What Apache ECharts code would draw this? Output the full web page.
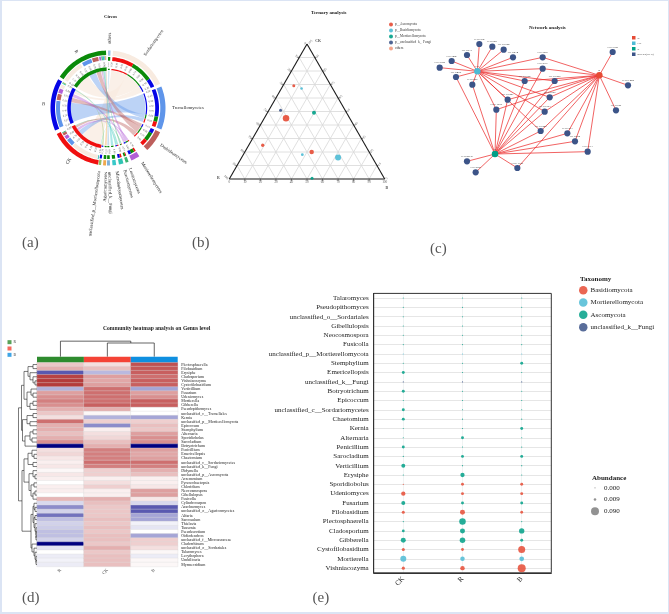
<!DOCTYPE html>
<html><head><meta charset="utf-8">
<style>html,body{margin:0;padding:0;background:#fff}#c{width:669px;height:614px}
#f{position:absolute;left:0;top:0;width:669px;height:614px;box-sizing:border-box;border:solid #dbe4f4;border-width:1px 1px 2px 2px;pointer-events:none}</style>
<script src="https://cdn.jsdelivr.net/npm/echarts@6/dist/echarts.min.js"></script>
</head><body><div id="c"></div><div id="f"></div>
<script>
const SERIF='"Liberation Serif"';
const NPG={red:'#e64b35',cyan:'#4dbbd5',green:'#00a087',blue:'#3c5488',peach:'#f39b7f'};

/* ---------- (a) circos ---------- */
const circosGroups=[['R',303,358,'#0a8a0a'],['B',247,300,'#0505e6'],['CK',190,243,'#f01010']];
const circosTaxa=[
 ['others',0,2.6,'#9fc5e8'],['Sordariomycetes',5,65,'#f8ebe0'],['Tremellomycetes',68,112,'#5f95ea'],
 ['Dothideomycetes',115,137,'#bd5f5c'],['Mortierellomycetes',147,156,'#b25fd6'],['Leotiomycetes',159,162,'#3cb371'],
 ['Eurotiomycetes',164.4,169,'#2fc4b2'],['Microbotryomycetes',171.8,175.5,'#38c8c8'],['unclassified_k__Fungi',178,181,'#7fb0d8'],
 ['Agaricomycetes',182,185,'#f0a94f'],['unclassified_p__Mortierellomycota',187,189.5,'#8fbc5f']];
const circosLinks=[
 ['CK','Sordariomycetes',192,223,5,30],['R','Sordariomycetes',303,328,30,55],['B','Sordariomycetes',293,297,55,65],
 ['B','Tremellomycetes',248,278,68,100],['R','Tremellomycetes',330,341,100,106],['CK','Tremellomycetes',224,232,106,112],
 ['B','Dothideomycetes',279,286,115,120],['R','Dothideomycetes',342,349,120,130],['CK','Dothideomycetes',238,241,130,137],
 ['CK','Mortierellomycetes',233,237,147,149],['R','Mortierellomycetes',350,352,149,153],['B','Mortierellomycetes',287,292,153,156],
 ['CK','Leotiomycetes',241,242,159,160],['R','Leotiomycetes',352.5,354,160,162],
 ['CK','Eurotiomycetes',190.5,191.5,164.4,166.4],['B','Eurotiomycetes',298,299,166.4,169],
 ['R','Microbotryomycetes',354,355.5,171.8,175.5],['R','unclassified_k__Fungi',355.5,356.5,178,181],
 ['R','Agaricomycetes',356.5,357.5,182,185],['B','unclassified_p__Mortierellomycota',299,300,187,189.5],
 ['R','others',357.5,358,0,2.6]];

/* ---------- (b) ternary: [R, CK, B, dot size] ---------- */
const ternaryAscomycota=[[41,45,14,6.5],[24,69,7,3],[66,25,9,3.3],[37,20,43,4.5]];
const ternaryBasidiomycota=[[20,67,13,2.6],[44,18,38,2.8],[22,16,62,6]];
const ternaryMortierellomycota=[[21,49,30,4],[46.5,0.5,53,3]];
const ternaryFungi=[[41.5,51,7.5,3]];
const ternaryTicks=[0,10,20,30,40,50,60,70,80,90,100];

/* ---------- (c) network ---------- */
const networkHubs=[['B',538,196],['CK',172,184],['R',225,432]];
const networkOtus=[['OTU704',178,102],['OTU881',217,110],['OTU1052',251,119],['OTU214',279,142],['OTU917',141,135],
 ['OTU486',95,153],['OTU964',59,173],['OTU456',108,201],['OTU826',157,224],['OTU283',368,142],['OTU677',368,176],
 ['OTU1562',314,213],['OTU1400',404,213],['OTU1487',263,269],['OTU1059',389,262],['OTU1009',229,299],['OTU1963',374,305],
 ['OTU1429',362,363],['OTU983',442,370],['OTU688',465,394],['OTU713',503,425],['OTU1349',292,474],['OTU2836',141,454],
 ['OTU868',167,487],['OTU702',578,126],['OTU1422',624,226],['OTU340',588,301]];
const linksCK=['OTU704','OTU881','OTU1052','OTU214','OTU917','OTU486','OTU964','OTU456','OTU826','OTU283','OTU677','OTU1562','OTU1400','OTU1487','OTU1059','OTU1009','OTU1963','OTU1429'];
const linksB=['OTU702','OTU1422','OTU340','OTU283','OTU1400','OTU1562','OTU1059','OTU1487','OTU1009','OTU1963','OTU983','OTU688','OTU713','OTU1349','OTU677','OTU1429'];
const linksR=['OTU456','OTU826','OTU1009','OTU1487','OTU1562','OTU677','OTU1059','OTU1400','OTU1963','OTU1429','OTU983','OTU688','OTU713','OTU2836','OTU868','OTU1349'];

/* ---------- (d) heatmap ---------- */
const heatColumns=['R','CK','B'];
const heatRows=['Plectosphaerella','Filobasidium','Erysiphe','Cladosporium','Vishniacozyma','Cystofilobasidium','Verticillium','Fusarium','Udeniomyces','Mortierella','Gibberella','Pseudopithomyces','unclassified_c__Tremellales','Kernia','unclassified_p__Mortierellomycota','Epicoccum','Stemphylium','Alternaria','Sporidiobolus','Sarocladium','Botryotrichum','Penicillium','Emericellopsis','Chaetomium','unclassified_c__Sordariomycetes','unclassified_k__Fungi','Didymella','unclassified_p__Ascomycota','Acremonium','Pyrenochaetopsis','Chloridium','Neocosmospora','Gibellulopsis','Fusicolla','Cylindrocarpon','Arachnomyces','unclassified_o__Agaricomycetes','Alfaria','Sarocaulum','Thielavia','Tausonia','Pseudeurotium','Oidiodendron','unclassified_f__Microascaceae','Cladorrhinum','unclassified_o__Sordariales','Talaromyces','Lecythophora','Umbilicaria','Myrmecridium'];
const heatR=[.35,.5,-1.3,1.4,1.5,1.5,-.6,.6,.7,.8,.7,.5,.35,.2,.9,.5,.5,.4,.5,.7,-2,.2,.25,.15,.1,.15,.05,.15,.1,0,.1,.1,0,.45,-.3,-.9,-.35,-1.1,-.5,-.35,-.4,-.5,-.5,-.35,-2,-.2,0,-.15,-.1,-.15];
const heatCK=[.2,.4,-.55,.6,.55,.6,.9,.9,.9,.9,1,.5,.05,-.6,.3,-.9,.1,.2,.25,.4,.5,.8,.8,.8,.9,.8,.3,.3,.1,.2,.3,.1,.1,.5,.4,.35,.35,.35,.4,.35,.4,.35,.4,.4,.35,.5,.35,.4,.4,.4];
const heatB=[1.2,1.1,1,.9,1,1,-.7,.6,.7,1,1,0,0,-.7,.3,.4,.35,.6,.7,.7,-2,.6,.55,.6,.9,.8,.5,.4,.1,.1,.15,.6,.6,.15,-.3,-1.3,-1.3,-.7,-.7,-.1,-.2,0,-.7,.3,.3,.2,.05,-.15,.05,.05];
const heatColumnColors=['#2e8b2e','#f44336','#0f8fe0'];
const heatDendrogram=[18.5,
 [21.5,
  [24,[28,[33,1,2],[30,3,[33,4,[35,5,6]]]],[27,[31,7,[33,8,9]],[30,[33,10,11],12]]],
  [22.5,[27,[33,13,14],[30,15,16]],[25,[30,[33,17,18],[32,19,20]],21]]],
 [22,
  [24,[28,[32,22,[34,23,24]],[33,25,26]],[29,[33,27,[35,28,29]],[31,[34,30,31],[33,[35,32,33],34]]]],
  [31,[33,[34,35,[35,36,37]],[34,[35,38,39],[35,40,[36,41,[36,42,[36,43,44]]]]]],[32,45,[34,46,[35,47,[36,48,[36,49,50]]]]]]]];
const heatTopTree=[.93,.5,[.82,1.5,2.5]];

/* ---------- (e) bubbles ---------- */
const bubbleGroups=['CK','R','B'];
const bubbleGenera=['Talaromyces','Pseudopithomyces','unclassified_o__Sordariales','Gibellulopsis','Neocosmospora','Fusicolla','unclassified_p__Mortierellomycota','Stemphylium','Emericellopsis','unclassified_k__Fungi','Botryotrichum','Epicoccum','unclassified_c__Sordariomycetes','Chaetomium','Kernia','Alternaria','Penicillium','Sarocladium','Verticillium','Erysiphe','Sporidiobolus','Udeniomyces','Fusarium','Filobasidium','Plectosphaerella','Cladosporium','Gibberella','Cystofilobasidium','Mortierella','Vishniacozyma'];
const abundCK=[.0005,.0005,.0005,.0005,.0005,.0005,.0002,.0005,.012,.0003,.012,.0007,.012,.012,.0007,.0007,.012,.002,.022,.002,.002,.026,.022,.013,.002,.011,.035,.013,.05,.014];
const abundR=[.0005,.0005,.0005,.0005,.0005,.0005,.0002,.0005,.0005,.0003,.0005,.0005,.0005,.0005,.0005,.012,.0005,.012,.002,.026,.012,.012,.012,.035,.06,.035,.043,.011,.028,.028];
const abundB=[.0005,.0005,.0005,.0005,.0005,.0005,.0002,.012,.0005,.0003,.0005,.0005,.0005,.0005,.012,.002,.002,.012,.002,.002,.012,.012,.012,.011,.002,.04,.012,.069,.031,.09];
const basidioGenera=['Sporidiobolus','Udeniomyces','Filobasidium','Cystofilobasidium','Vishniacozyma'];
const mortierGenera=['unclassified_p__Mortierellomycota','Mortierella'];
const fungiGenera=['unclassified_k__Fungi'];
const abundanceKey=[0,.009,.09];
const abundanceKeyLabels=['0.000','0.009','0.090'];

/* ---------- helpers ---------- */
const rad=a=>a*Math.PI/180;
const P=(a,r)=>[r*Math.sin(rad(a)),r*Math.cos(rad(a))];
const color={};circosGroups.forEach(g=>color[g[0]]=g[3]);circosTaxa.forEach(t=>color[t[0]]=t[3]);
const arcPts=(a0,a1,r)=>{const n=Math.max(2,Math.ceil(Math.abs(a1-a0)/2));const o=[];for(let i=0;i<=n;i++)o.push(P(a0+(a1-a0)*i/n,r));return o};
const segsRing=[];
circosGroups.forEach(g=>{segsRing.push([g[1],g[2],53,57.5,g[3]]);segsRing.push([g[1],g[2],37.2,40.7,g[3]]);});
circosTaxa.forEach(t=>segsRing.push([t[1],t[2],52.3,57.5,t[3]]));
circosLinks.forEach(l=>{
  segsRing.push([l[2],l[3],48,52,color[l[1]]]);
  segsRing.push([l[4],l[5],47.2,51,color[l[0]]]);
  segsRing.push([l[4],l[5],38,39.2,color[l[0]]]);
});
const tickAngles=[];
circosGroups.concat(circosTaxa.map(t=>[t[0],t[1],t[2]])).forEach(g=>{if(g[2]-g[1]<2)return;for(let a=g[1];a<=g[2];a+=6.5)tickAngles.push(a)});

function segSeries(gridIndex,segs,color,width,z){return{type:'custom',xAxisIndex:gridIndex,yAxisIndex:gridIndex,silent:true,animation:false,z:z||2,data:segs,clip:false,
  renderItem(p,api){const a=api.coord([api.value(0),api.value(1)]),b=api.coord([api.value(2),api.value(3)]);
    return{type:'line',shape:{x1:a[0],y1:a[1],x2:b[0],y2:b[1]},style:{stroke:color,lineWidth:width}}}}}
const tern=(d)=>[d[2]+d[1]/2,d[1],d[3]];
const ternGrid=[],ternTick=[],ternFrame=[[0,0,100,0],[0,0,50,100],[100,0,50,100]];
ternaryTicks.slice(1,-1).forEach(t=>{
  ternGrid.push([t/2,t,100-t/2,t],[t,0,50+t/2,100-t],[100-t,0,50-t/2,100-t]);
  ternTick.push([t,0,t,-1.5],[t/2,t,t/2-1,t],[100-t/2,t,100-t/2+1,t]);
});
const segsDendro=[];
(function walk(n){if(typeof n==='number')return{x:37,y:n-.5};
  const k=n.slice(1).map(walk),y=(k[0].y+k[k.length-1].y)/2;
  segsDendro.push([n[0],k[0].y,n[0],k[k.length-1].y]);k.forEach(c=>segsDendro.push([n[0],c.y,c.x,c.y]));
  return{x:n[0],y}})(heatDendrogram);
const segsTop=[];
(function walk(n){if(typeof n==='number')return{x:n,y:0};
  const k=n.slice(1).map(walk),x=(k[0].x+k[k.length-1].x)/2;
  segsTop.push([k[0].x,n[0],k[k.length-1].x,n[0]]);k.forEach(c=>segsTop.push([c.x,n[0],c.x,c.y]));
  return{x,y:n[0]}})(heatTopTree);

const bubbleSize=v=>Math.max(1.1,8*Math.sqrt(v/.09));
const phylumOf=g=>basidioGenera.includes(g)?'Basidiomycota':mortierGenera.includes(g)?'Mortierellomycota':fungiGenera.includes(g)?'unclassified_k__Fungi':'Ascomycota';
const bubbleData=name=>{const o=[];bubbleGenera.forEach((g,i)=>{if(phylumOf(g)!==name)return;
  [abundCK,abundR,abundB].forEach((arr,c)=>o.push([bubbleGroups[c],g,arr[i]]))});return o};

/* ---------- layout ---------- */
const G=[
 {left:18,top:18,width:180,height:180},            //0 circos
 {left:229.3,top:44,width:155.4,height:135},       //1 ternary
 {left:420,top:10,width:249,height:250},           //2 network
 {left:37,top:362.5,width:140.7,height:204},       //3 heatmap
 {left:37,top:356.7,width:140.7,height:5.5},       //4 column strip
 {left:18,top:362.5,width:19,height:204},          //5 left dendrogram
 {left:37,top:340,width:140.7,height:16.7},        //6 top dendrogram
 {left:373.7,top:293.4,width:177.6,height:279.4,show:true,borderColor:'#333',borderWidth:1,z:3}, //7 bubbles
 {left:591,top:482,width:8,height:35},             //8 abundance key
 {left:7.5,top:339,width:4,height:19}              //9 heat key
];
const hidden=(g,extra)=>Object.assign({type:'value',gridIndex:g,show:false},extra);
const xAxes=[hidden(0,{min:-90,max:90}),hidden(1,{min:0,max:100}),hidden(2,{min:0,max:747}),
 {type:'category',gridIndex:3,data:heatColumns,axisLine:{show:false},axisTick:{show:false},axisLabel:{fontFamily:SERIF,fontSize:4.5,rotate:45,margin:3,color:'#444'}},
 {type:'category',gridIndex:4,data:heatColumns,show:false},
 hidden(5,{min:18,max:37}),hidden(6,{min:0,max:3}),
 {type:'category',gridIndex:7,data:bubbleGroups,position:'bottom',axisLine:{lineStyle:{color:'#333'}},axisTick:{length:3,alignWithLabel:true,lineStyle:{color:'#333'}},
  axisLabel:{fontFamily:SERIF,fontSize:7,rotate:45,margin:5,color:'#222'},splitLine:{show:true,alignWithLabel:true,lineStyle:{color:'#e9eeee',width:.7}}},
 {type:'category',gridIndex:8,data:['k'],show:false},
 {type:'category',gridIndex:9,data:['k'],show:false}];
const yAxes=[hidden(0,{min:-90,max:90}),hidden(1,{min:0,max:100}),hidden(2,{min:0,max:750,inverse:true}),
 {type:'category',gridIndex:3,data:heatRows,inverse:true,position:'right',axisLine:{show:false},axisTick:{show:false},axisLabel:{interval:0,fontFamily:SERIF,fontSize:4,margin:3.5,color:'#222'}},
 hidden(4,{min:0,max:1}),hidden(5,{min:0,max:50,inverse:true}),hidden(6,{min:0,max:1}),
 {type:'category',gridIndex:7,data:bubbleGenera,inverse:true,axisLine:{lineStyle:{color:'#333'}},axisTick:{length:3,alignWithLabel:true,lineStyle:{color:'#333'}},
  axisLabel:{interval:0,fontFamily:SERIF,fontSize:7,margin:5,color:'#222'},splitLine:{show:true,alignWithLabel:true,lineStyle:{color:'#e6e6e6',width:1}}},
 {type:'category',gridIndex:8,data:abundanceKeyLabels,inverse:true,position:'right',axisLine:{show:false},axisTick:{show:false},axisLabel:{fontFamily:SERIF,fontSize:7,margin:5,color:'#222'}},
 {type:'category',gridIndex:9,data:heatColumns,inverse:true,position:'right',axisLine:{show:false},axisTick:{show:false},axisLabel:{fontFamily:SERIF,fontSize:3.6,margin:2,color:'#333'}}];

/* ---------- series ---------- */
const circosBase={type:'custom',xAxisIndex:0,yAxisIndex:0,silent:true,animation:false,clip:false};
const seriesList=[];
seriesList.push(Object.assign({},circosBase,{name:'ribbons',z:1,data:circosLinks.map((l,i)=>[i,0]),renderItem(p,api){
  const l=circosLinks[p.dataIndex],r=37.5,pts=[];
  const curve=(A,B)=>{for(let i=1;i<16;i++){const t=i/16,u=1-t;pts.push([u*u*A[0]+t*t*B[0],u*u*A[1]+t*t*B[1]])}};
  const ga=arcPts(l[2],l[3],r),ta=arcPts(l[4],l[5],r);
  pts.push(...ga);curve(ga[ga.length-1],ta[0]);pts.push(...ta);curve(ta[ta.length-1],ga[0]);
  const light=l[1]==='Sordariomycetes';
  return{type:'polygon',shape:{points:pts.map(q=>api.coord(q))},style:{fill:color[l[1]],opacity:light?.75:.42}}}}));
seriesList.push(Object.assign({},circosBase,{name:'rings',z:2,data:segsRing.map((s,i)=>[i,0]),renderItem(p,api){
  const s=segsRing[p.dataIndex],pts=arcPts(s[0],s[1],s[3]).concat(arcPts(s[1],s[0],s[2]));
  return{type:'polygon',shape:{points:pts.map(q=>api.coord(q))},style:{fill:s[4]}}}}));
const radial=(api,a,r,text,size,fill)=>{const q=api.coord(P(a,r)),right=((a%360)+360)%360<180;
  return{type:'text',x:q[0],y:q[1],rotation:right?rad(90-a):rad(270-a),style:{text,fontFamily:SERIF,fontSize:size,fill,align:right?'left':'right',verticalAlign:'middle'}}};
seriesList.push(Object.assign({},circosBase,{name:'circos ticks',z:3,data:tickAngles.map((a,i)=>[i,0]),renderItem(p,api){
  const a=tickAngles[p.dataIndex];return radial(api,a,41.2,'0.'+(p.dataIndex%9+1)+'0',2.7,'#555')}}));
const circosNames=circosTaxa.map(t=>[t[0],(t[1]+t[2])/2]).concat(circosGroups.map(g=>[g[0],(g[1]+g[2])/2]));
const taxaLabelAngles={Sordariomycetes:35,Tremellomycetes:90,Dothideomycetes:125,Mortierellomycetes:148,Leotiomycetes:160,Eurotiomycetes:165,Microbotryomycetes:172,unclassified_k__Fungi:178.6,Agaricomycetes:182,unclassified_p__Mortierellomycota:188,others:1.3};
seriesList.push(Object.assign({},circosBase,{name:'circos names',z:4,data:circosNames.map((n,i)=>[i,0]),renderItem(p,api){
  const n=circosNames[p.dataIndex];return radial(api,taxaLabelAngles[n[0]]||n[1],n[0].length<3?63:64,n[0],4.6,'#222')}}));

seriesList.push(segSeries(1,ternGrid,'#d8d8d8',.8,1));
seriesList.push(segSeries(1,ternTick,'#222',.5,2));
seriesList.push(segSeries(1,ternFrame,'#1a1a1a',1.1,3));
[['p__Ascomycota',ternaryAscomycota,NPG.red],['p__Basidiomycota',ternaryBasidiomycota,NPG.cyan],['p__Mortierellomycota',ternaryMortierellomycota,NPG.green],['p__unclassified_k__Fungi',ternaryFungi,NPG.blue],['others',[],NPG.peach]].forEach(t=>{
  seriesList.push({type:'scatter',name:t[0]==='others'?'others ':t[0],xAxisIndex:1,yAxisIndex:1,z:5,animation:false,silent:true,clip:false,data:t[1].map(tern),symbolSize:v=>v[2],itemStyle:{color:t[2],opacity:.9}});
});
const tlabel=(data,pos,rot,off)=>({type:'scatter',xAxisIndex:1,yAxisIndex:1,symbolSize:0,silent:true,animation:false,clip:false,data,
  label:{show:true,position:pos,rotate:rot,offset:off,distance:1.5,fontFamily:SERIF,fontSize:3.4,color:'#333',formatter:p=>p.value[2]}});
seriesList.push(tlabel(ternaryTicks.map(t=>[t,0,String(t)]),'bottom',0,[0,0]));
seriesList.push(tlabel(ternaryTicks.map(t=>[t/2,t,String(100-t)]),'left',-45,[0,0]));
seriesList.push(tlabel(ternaryTicks.map(t=>[100-t/2,t,String(t)]),'right',45,[0,0]));
seriesList.push({type:'scatter',xAxisIndex:1,yAxisIndex:1,symbolSize:0,silent:true,animation:false,clip:false,
  data:[{value:[50,100,'CK'],label:{offset:[11,-3]}},{value:[0,0,'R'],label:{offset:[-11,-1]}},{value:[100,0,'B'],label:{offset:[2,9]}}],
  label:{show:true,position:'inside',fontFamily:SERIF,fontSize:3.8,fontWeight:'bold',color:'#222',formatter:p=>p.value[2]}});

seriesList.push({type:'graph',name:'network',coordinateSystem:'cartesian2d',xAxisIndex:2,yAxisIndex:2,silent:true,animation:false,roam:false,z:2,
  categories:[{name:'B',itemStyle:{color:NPG.red}},{name:'CK',itemStyle:{color:NPG.cyan}},{name:'R',itemStyle:{color:NPG.green}},{name:'species(OTU)',itemStyle:{color:NPG.blue}}],
  data:networkHubs.map((n,i)=>({name:n[0],value:[n[1],n[2]],category:i,symbolSize:6.5})).concat(networkOtus.map(n=>({name:n[0],value:[n[1],n[2]],category:3,symbolSize:6.2}))),
  links:[['CK',linksCK],['B',linksB],['R',linksR]].flatMap(h=>h[1].map(o=>({source:h[0],target:o}))),
  lineStyle:{color:'#ec2f2f',width:.75,opacity:1,curveness:0},
  label:{show:true,position:'top',distance:.5,fontFamily:SERIF,fontSize:2.9,color:'#333'},emphasis:{disabled:true}});

const heatData=[];[heatR,heatCK,heatB].forEach((col,c)=>col.forEach((v,r)=>heatData.push([c,r,v])));
seriesList.push({type:'heatmap',name:'heat',xAxisIndex:3,yAxisIndex:3,data:heatData,silent:true,animation:false,itemStyle:{borderColor:'#dcdcdc',borderWidth:.35}});
const heatIndex=seriesList.length-1;
seriesList.push({type:'bar',xAxisIndex:4,yAxisIndex:4,barWidth:'100%',silent:true,animation:false,data:heatColumnColors.map(c=>({value:1,itemStyle:{color:c}}))});
seriesList.push(segSeries(5,segsDendro,'#222',.6,2));
seriesList.push(segSeries(6,segsTop,'#222',.7,2));
[['Basidiomycota',NPG.red],['Mortierellomycota',NPG.cyan],['Ascomycota',NPG.green],['unclassified_k__Fungi',NPG.blue]].forEach(t=>{
  seriesList.push({type:'scatter',name:t[0],xAxisIndex:7,yAxisIndex:7,z:4,silent:true,animation:false,data:bubbleData(t[0]),symbolSize:v=>bubbleSize(v[2]),itemStyle:{color:t[1],opacity:.85}});
});
seriesList.push({type:'scatter',name:'Abundance',xAxisIndex:8,yAxisIndex:8,silent:true,animation:false,clip:false,
  data:abundanceKey.map((v,i)=>['k',abundanceKeyLabels[i],v]),symbolSize:v=>bubbleSize(v[2]),itemStyle:{color:'#777'}});
seriesList.push({type:'scatter',name:'heat key',xAxisIndex:9,yAxisIndex:9,symbol:'rect',symbolSize:4,silent:true,animation:false,clip:false,
  data:heatColumns.map((n,i)=>({value:['k',n],itemStyle:{color:heatColumnColors[i]}}))});

const ttl=(text,left,top,size,weight,col)=>({text,left,top,padding:0,textStyle:{fontFamily:SERIF,fontSize:size,fontWeight:weight||'normal',color:col||'#222'}});
const chart=echarts.init(document.getElementById('c'),null,{renderer:'canvas',width:669,height:614});
chart.setOption({
  animation:false,backgroundColor:'#fff',
  title:[ttl('Circos',104,14.5,4.8,'bold'),ttl('Ternary analysis',311,10.5,5,'bold'),ttl('Network analysis',529,25.5,5,'bold'),
    ttl('Community heatmap analysis on Genus level',103,325.8,5.6,'bold'),ttl('Taxonomy',580,275.5,7,'bold'),ttl('Abundance',592,474.5,7,'bold'),
    ttl('(a)',22,236,15,'normal','#555'),ttl('(b)',192,236,15,'normal','#555'),ttl('(c)',430,242,15,'normal','#555'),ttl('(d)',22,591,15,'normal','#555'),ttl('(e)',312.5,591,15,'normal','#555')],
  grid:G,xAxis:xAxes,yAxis:yAxes,
  visualMap:[{type:'continuous',show:false,seriesIndex:heatIndex,min:-2,max:2,inRange:{color:['#000080','#7f7fc4','#ffffff','#c85f5f','#a01818']}}],
  legend:[
   {data:['p__Ascomycota','p__Basidiomycota','p__Mortierellomycota','p__unclassified_k__Fungi','others '],orient:'vertical',left:389,top:22.5,padding:0,itemGap:2,itemWidth:4,itemHeight:4,icon:'circle',selectedMode:false,textStyle:{fontFamily:SERIF,fontSize:3.4,color:'#333',padding:[0,0,0,-3]}},
   {data:['B','CK','R','species(OTU)'],orient:'vertical',left:632,top:36,padding:0,itemGap:2,itemWidth:3.5,itemHeight:3.5,icon:'rect',selectedMode:false,textStyle:{fontFamily:SERIF,fontSize:2.9,color:'#333',padding:[0,0,0,-3]}},
   {data:['Basidiomycota','Mortierellomycota','Ascomycota','unclassified_k__Fungi'],orient:'vertical',left:579,top:286,padding:0,itemGap:3.8,itemWidth:8.5,itemHeight:8.5,icon:'circle',selectedMode:false,textStyle:{fontFamily:SERIF,fontSize:7,color:'#222',padding:[0,0,0,-2]}}
  ],
  series:seriesList
});
</script></body></html>
